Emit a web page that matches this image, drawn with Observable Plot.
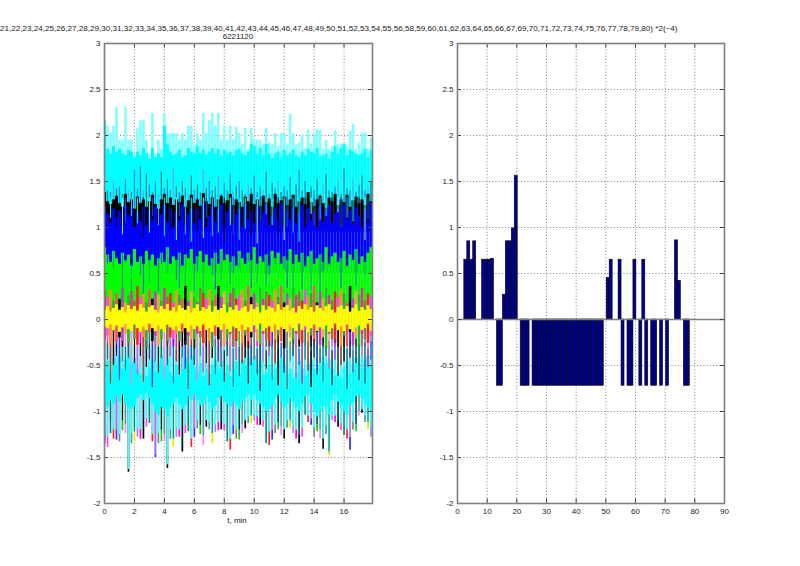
<!DOCTYPE html>
<html><head><meta charset="utf-8">
<script src="https://cdn.jsdelivr.net/npm/d3@7"></script>
<script src="https://cdn.jsdelivr.net/npm/@observablehq/plot@0.6"></script>
<style>
html,body{margin:0;padding:0;background:#fff;overflow:hidden}
#page{position:relative;width:800px;height:566px;overflow:hidden;font-family:"Liberation Sans",Arial,sans-serif;font-size:8px;color:#222}
#page svg{position:absolute;top:0;background:transparent}
.lbl{position:absolute;white-space:nowrap;line-height:10px}
</style></head><body>
<div id="page">
<div class="lbl" id="title" style="left:0;top:24px;font-size:8.1px"></div>
<div class="lbl" style="left:238px;top:32px;transform:translateX(-50%)">6221120</div>
<div class="lbl" style="left:237px;top:516px;transform:translateX(-50%)">t, min</div>
</div>
<script>
const titleNumbers = "21,22,23,24,25,26,27,28,29,30,31,32,33,34,35,36,37,38,39,40,41,42,43,44,45,46,47,48,49,50,51,52,53,54,55,56,58,59,60,61,62,63,64,65,66,67,69,70,71,72,73,74,75,76,77,78,79,80) *2(~4)";
const yTicks = [-2,-1.5,-1,-0.5,0,0.5,1,1.5,2,2.5,3];
const leftXTicks = [0,2,4,6,8,10,12,14,16];
const rightXTicks = [0,10,20,30,40,50,60,70,80,90];

// Right panel: bar index and value
const barN = [3,4,5,6,9,10,11,12,14,15,16,17,18,19,20,22,23,24,26,27,28,29,30,31,32,33,34,35,36,37,38,39,40,41,42,43,44,45,46,47,48,49,51,52,55,56,58,59,60,62,63,64,66,67,69,71,74,75,77,78];
const barV = [0.65,0.85,0.65,0.85,0.65,0.65,0.65,0.66,-0.72,-0.72,0.27,0.85,0.85,0.99,1.56,-0.72,-0.72,-0.72,
 -0.72,-0.72,-0.72,-0.72,-0.72,-0.72,-0.72,-0.72,-0.72,-0.72,-0.72,-0.72,-0.72,-0.72,-0.72,-0.72,-0.72,-0.72,-0.72,-0.72,-0.72,-0.72,-0.72,-0.72,
 0.45,0.65,0.65,-0.72,-0.72,-0.72,0.65,-0.72,0.65,-0.72,-0.72,-0.72,-0.72,-0.72,0.86,0.42,-0.72,-0.72];

// Left panel: time columns, min
const tMin = [0,.2,.4,.6,.8,1,1.2,1.4,1.6,1.8,2,2.2,2.4,2.6,2.8,3,3.2,3.4,3.6,3.8,4,4.2,4.4,4.6,4.8,5,5.2,5.4,5.6,5.8,6,6.2,6.4,6.6,6.8,7,7.2,7.4,7.6,7.8,8,8.2,8.4,8.6,8.8,9,9.2,9.4,9.6,9.8,10,10.2,10.4,10.6,10.8,11,11.2,11.4,11.6,11.8,12,12.2,12.4,12.6,12.8,13,13.2,13.4,13.6,13.8,14,14.2,14.4,14.6,14.8,15,15.2,15.4,15.6,15.8,16,16.2,16.4,16.6,16.8,17,17.2,17.4,17.6,17.8];

const spikeTop = [2.16,2.1,2.02,2.1,2.31,1.95,1.95,2.31,1.95,1.95,
 1.8,2.08,2.16,2.16,1.95,1.8,2.24,1.8,1.95,1.85,
 2.24,2.02,2.02,2.02,2.02,1.95,2.02,1.95,2.1,2.1,
 1.9,2.02,1.95,2.24,2.02,2.16,2.24,2.1,2.24,1.95,
 2.1,1.95,2.1,1.95,2.09,2.02,1.9,2.08,1.85,2.08,
 1.95,1.95,1.95,1.9,2.08,1.92,1.9,2.02,1.88,2.02,
 2.02,1.9,2.23,2.02,1.9,1.92,2.0,1.85,2.06,1.91,
 2.02,2.06,2.06,1.85,1.95,1.85,1.88,2.05,1.9,1.91,
 1.91,1.88,2.05,2.12,1.85,1.91,2.03,2.03,1.85,1.97];
const cyanTop = [2.16,1.85,1.8,1.88,1.82,1.85,1.8,1.78,1.84,1.82,
 1.76,1.82,1.78,1.86,1.8,1.74,1.86,1.76,1.8,1.76,
 2.1,1.9,1.82,1.78,1.8,1.84,1.76,1.78,1.86,1.82,
 1.8,1.88,1.8,1.84,1.78,1.82,1.86,1.8,1.85,1.78,
 1.84,1.8,1.82,1.78,1.84,1.85,1.8,1.78,1.82,1.9,
 1.88,1.8,1.86,1.78,1.9,1.8,1.75,1.8,1.82,1.76,
 1.84,1.78,1.8,1.84,1.78,1.76,1.82,1.78,1.85,1.82,
 1.8,1.86,1.76,1.78,1.8,1.74,1.82,1.88,1.8,1.86,
 1.9,1.78,1.84,1.82,1.8,1.78,1.8,1.85,1.76,1.84];
const bluePeak = [1.45,1.4,1.38,1.5,1.42,1.44,1.36,1.52,1.4,1.38,
 1.62,1.42,1.66,1.4,1.58,1.46,1.38,1.5,1.36,1.6,
 1.42,1.52,1.4,1.64,1.44,1.38,1.5,1.42,1.36,1.56,
 1.4,1.46,1.38,1.62,1.42,1.5,1.4,1.44,1.56,1.36,
 1.48,1.4,1.58,1.38,1.44,1.5,1.4,1.36,1.46,1.42,
 1.56,1.38,1.44,1.4,1.6,1.36,1.48,1.42,1.5,1.38,
 1.44,1.4,1.54,1.36,1.46,1.62,1.4,1.5,1.38,1.44,
 1.4,1.52,1.36,1.46,1.58,1.4,1.38,1.44,1.5,1.36,
 1.64,1.42,1.4,1.52,1.38,1.46,1.56,1.4,1.44,1.5];
const blackTop = [1.38,1.28,1.25,1.3,1.34,1.26,1.22,1.36,1.27,1.3,
 1.2,1.33,1.26,1.3,1.22,1.28,1.35,1.25,1.2,1.3,
 1.36,1.26,1.32,1.24,1.3,1.27,1.34,1.22,1.29,1.35,
 1.26,1.3,1.23,1.37,1.28,1.25,1.32,1.22,1.3,1.34,
 1.26,1.29,1.36,1.24,1.3,1.27,1.22,1.33,1.28,1.36,
 1.25,1.3,1.23,1.34,1.27,1.31,1.22,1.36,1.26,1.29,
 1.33,1.24,1.3,1.35,1.22,1.28,1.32,1.25,1.38,1.27,
 1.23,1.3,1.34,1.26,1.21,1.32,1.28,1.36,1.24,1.3,
 1.27,1.35,1.22,1.29,1.33,1.26,1.3,1.24,1.36,1.28];
const blueTop = [1.22,1.14,1.04,1.2,1.1,1.18,1.02,1.24,1.12,1.2,
 1.0,1.16,1.06,1.22,1.02,1.18,1.08,1.22,1.04,1.14,
 1.24,1.06,1.2,1.0,1.16,1.08,1.24,1.02,1.14,1.2,
 1.04,1.2,1.08,1.26,1.0,1.12,1.22,1.06,1.18,1.24,
 1.02,1.16,1.22,1.04,1.14,1.2,1.0,1.24,1.08,1.18,
 1.04,1.22,1.06,1.16,1.24,1.02,1.12,1.2,1.06,1.26,
 1.0,1.18,1.08,1.22,1.04,1.14,1.24,1.02,1.2,1.08,
 1.16,1.0,1.22,1.06,1.18,1.24,1.04,1.14,1.2,1.02,
 1.24,1.08,1.18,1.04,1.22,1.12,1.0,1.2,1.06,1.26];
const cyanDip = [1.02,0.9,1.1,0.84,1.0,1.14,0.92,1.06,0.86,1.12,
 0.96,1.04,1.16,0.88,1.08,0.94,1.12,0.82,1.02,1.1,
 0.9,1.14,0.98,1.06,0.86,1.12,1.0,0.92,1.08,0.84,
 1.14,0.96,1.04,0.88,1.1,1.0,0.9,1.16,0.94,1.06,
 0.84,1.12,1.02,0.92,1.08,0.86,1.14,0.98,1.04,0.9,
 1.1,0.82,1.06,0.96,1.14,0.88,1.02,1.12,0.92,1.08,
 0.86,1.0,1.16,0.94,1.06,0.84,1.1,0.98,0.9,1.14,
 1.02,0.88,1.08,0.96,1.12,0.86,1.04,0.92,1.16,1.0,
 0.84,1.1,0.94,1.06,0.9,1.14,0.98,0.86,1.08,1.02];
const greenTop = [0.78,0.7,0.62,0.74,0.66,0.6,0.72,0.64,0.7,0.58,
 0.76,0.62,0.68,0.6,0.74,0.64,0.7,0.58,0.66,0.72,
 0.62,0.78,0.6,0.68,0.64,0.72,0.58,0.7,0.66,0.76,
 0.6,0.68,0.74,0.62,0.7,0.58,0.66,0.72,0.6,0.76,
 0.64,0.7,0.62,0.68,0.58,0.74,0.66,0.6,0.72,0.64,
 0.78,0.6,0.68,0.62,0.7,0.58,0.74,0.66,0.72,0.6,
 0.68,0.64,0.76,0.6,0.7,0.62,0.72,0.58,0.68,0.74,
 0.6,0.66,0.7,0.62,0.78,0.6,0.68,0.72,0.62,0.66,
 0.74,0.58,0.7,0.64,0.76,0.6,0.68,0.62,0.72,0.78];
const greenDrop = [0.42,0.6,0.38,0.55,0.3,0.5,0.34,0.62,0.4,0.28,
 0.56,0.36,0.48,0.26,0.58,0.4,0.32,0.52,0.3,0.6,
 0.36,0.5,0.28,0.62,0.42,0.34,0.54,0.3,0.46,0.58,
 0.3,0.52,0.4,0.26,0.6,0.36,0.48,0.32,0.56,0.42,
 0.28,0.6,0.38,0.5,0.3,0.54,0.44,0.26,0.62,0.34,
 0.52,0.4,0.28,0.58,0.36,0.48,0.3,0.6,0.42,0.26,
 0.54,0.34,0.5,0.28,0.62,0.4,0.32,0.56,0.38,0.3,
 0.6,0.42,0.26,0.52,0.36,0.58,0.3,0.48,0.62,0.34,
 0.4,0.56,0.28,0.5,0.36,0.6,0.32,0.46,0.26,0.54];
const midTop = [0.3,0.24,0.32,0.2,0.28,0.22,0.34,0.18,0.26,0.3,
 0.2,0.36,0.24,0.28,0.18,0.32,0.22,0.3,0.26,0.2,
 0.34,0.24,0.28,0.18,0.32,0.26,0.22,0.36,0.2,0.3,
 0.24,0.18,0.34,0.28,0.22,0.32,0.2,0.26,0.36,0.24,
 0.3,0.18,0.28,0.34,0.22,0.26,0.32,0.2,0.36,0.24,
 0.28,0.18,0.34,0.22,0.3,0.26,0.2,0.32,0.24,0.36,
 0.18,0.28,0.22,0.34,0.26,0.3,0.2,0.32,0.24,0.28,
 0.36,0.18,0.3,0.22,0.34,0.26,0.2,0.3,0.24,0.32,
 0.28,0.18,0.36,0.22,0.3,0.26,0.34,0.2,0.28,0.24];
const midBottom = [-0.22,-0.18,-0.28,-0.14,-0.24,-0.2,-0.3,-0.16,-0.26,-0.12,
 -0.22,-0.28,-0.16,-0.2,-0.32,-0.14,-0.24,-0.18,-0.28,-0.22,
 -0.12,-0.26,-0.2,-0.3,-0.16,-0.24,-0.14,-0.28,-0.18,-0.22,
 -0.32,-0.16,-0.2,-0.26,-0.12,-0.24,-0.3,-0.18,-0.22,-0.14,
 -0.28,-0.2,-0.16,-0.3,-0.24,-0.12,-0.26,-0.18,-0.32,-0.2,
 -0.14,-0.24,-0.28,-0.16,-0.22,-0.3,-0.12,-0.26,-0.18,-0.24,
 -0.32,-0.14,-0.2,-0.28,-0.16,-0.22,-0.26,-0.12,-0.3,-0.18,
 -0.24,-0.14,-0.28,-0.2,-0.32,-0.16,-0.22,-0.26,-0.12,-0.3,
 -0.18,-0.24,-0.14,-0.28,-0.2,-0.3,-0.16,-0.22,-0.26,-0.18];
const yellowTop = [0.1,0.14,0.08,0.12,0.16,0.1,0.13,0.07,0.15,0.11,
 0.14,0.09,0.16,0.12,0.08,0.13,0.15,0.1,0.07,0.14,
 0.11,0.16,0.09,0.13,0.08,0.15,0.12,0.1,0.14,0.07,
 0.12,0.16,0.09,0.13,0.11,0.15,0.08,0.14,0.1,0.12,
 0.16,0.07,0.13,0.1,0.15,0.09,0.12,0.14,0.08,0.16,
 0.11,0.13,0.07,0.15,0.1,0.14,0.12,0.08,0.16,0.1,
 0.13,0.15,0.09,0.12,0.07,0.14,0.11,0.16,0.1,0.13,
 0.08,0.15,0.12,0.09,0.14,0.16,0.1,0.07,0.13,0.15,
 0.11,0.14,0.08,0.12,0.16,0.09,0.13,0.1,0.15,0.11];
const yellowBottom = [-0.08,-0.1,-0.06,-0.12,-0.07,-0.14,-0.09,-0.05,-0.11,-0.13,
 -0.06,-0.1,-0.14,-0.08,-0.12,-0.05,-0.1,-0.13,-0.07,-0.11,
 -0.14,-0.06,-0.09,-0.12,-0.08,-0.13,-0.05,-0.1,-0.14,-0.07,
 -0.11,-0.08,-0.13,-0.06,-0.12,-0.1,-0.14,-0.07,-0.09,-0.12,
 -0.05,-0.11,-0.14,-0.08,-0.1,-0.13,-0.06,-0.12,-0.09,-0.14,
 -0.07,-0.11,-0.05,-0.13,-0.1,-0.08,-0.14,-0.06,-0.12,-0.09,
 -0.11,-0.14,-0.07,-0.1,-0.13,-0.05,-0.12,-0.08,-0.14,-0.1,
 -0.06,-0.13,-0.09,-0.11,-0.07,-0.14,-0.1,-0.05,-0.12,-0.08,
 -0.13,-0.06,-0.11,-0.14,-0.09,-0.07,-0.12,-0.1,-0.05,-0.13];
const lowerBottom = [-1.35,-1.39,-1.24,-1.30,-1.31,-1.33,-1.21,-1.24,-1.66,-1.35,
 -1.33,-1.28,-1.30,-1.30,-1.17,-1.13,-1.33,-1.50,-1.35,-1.33,
 -1.33,-1.62,-1.30,-1.39,-1.28,-1.28,-1.44,-1.24,-1.22,-1.39,
 -1.28,-1.19,-1.25,-1.37,-1.17,-1.20,-1.35,-1.23,-1.21,-1.20,
 -1.21,-1.33,-1.42,-1.25,-1.30,-1.31,-1.24,-1.19,-1.13,-1.13,
 -1.10,-1.15,-1.15,-1.17,-1.35,-1.37,-1.31,-1.24,-1.20,-1.26,
 -1.30,-1.18,-1.19,-1.24,-1.30,-1.35,-1.28,-1.04,-1.12,-1.15,
 -1.28,-1.22,-1.30,-1.41,-1.25,-1.48,-1.10,-1.12,-1.17,-1.21,
 -1.26,-1.30,-1.42,-1.20,-1.22,-1.05,-1.02,-1.12,-1.20,-1.28];
const tailEnd = [-1.22,-1.28,-1.12,-1.2,-1.2,-1.25,-1.1,-1.14,-1.63,-1.24,
 -1.22,-1.18,-1.2,-1.18,-1.08,-1.06,-1.25,-1.47,-1.24,-1.2,
 -1.25,-1.58,-1.2,-1.3,-1.18,-1.2,-1.34,-1.15,-1.14,-1.3,
 -1.18,-1.1,-1.15,-1.26,-1.1,-1.12,-1.24,-1.14,-1.12,-1.1,
 -1.14,-1.22,-1.3,-1.15,-1.2,-1.2,-1.14,-1.1,-1.06,-1.05,
 -1.04,-1.06,-1.07,-1.1,-1.2,-1.22,-1.2,-1.15,-1.12,-1.16,
 -1.2,-1.1,-1.1,-1.16,-1.2,-1.26,-1.18,-1.0,-1.05,-1.08,
 -1.18,-1.14,-1.2,-1.3,-1.16,-1.44,-1.04,-1.05,-1.1,-1.13,
 -1.16,-1.2,-1.28,-1.12,-1.14,-1.0,-0.98,-1.05,-1.12,-1.18];
const cyanHigh = [-0.52,-0.46,-0.58,-0.42,-0.5,-0.4,-0.54,-0.44,-0.38,-0.48,
 -0.42,-0.54,-0.6,-0.48,-0.62,-0.54,-0.44,-0.58,-0.48,-0.4,
 -0.52,-0.44,-0.58,-0.62,-0.5,-0.6,-0.54,-0.42,-0.48,-0.4,
 -0.52,-0.58,-0.48,-0.62,-0.54,-0.6,-0.5,-0.44,-0.54,-0.46,
 -0.58,-0.5,-0.62,-0.54,-0.46,-0.6,-0.44,-0.5,-0.42,-0.48,
 -0.4,-0.54,-0.46,-0.6,-0.58,-0.5,-0.62,-0.54,-0.46,-0.42,
 -0.5,-0.6,-0.54,-0.64,-0.58,-0.46,-0.54,-0.62,-0.5,-0.44,
 -0.54,-0.6,-0.5,-0.42,-0.48,-0.44,-0.54,-0.62,-0.58,-0.64,
 -0.54,-0.46,-0.6,-0.5,-0.42,-0.48,-0.54,-0.44,-0.4,-0.5];
const cyanLow = [-0.9,-0.96,-0.88,-0.92,-0.84,-0.9,-0.82,-0.92,-0.96,-0.98,
 -0.94,-0.86,-0.82,-0.88,-0.8,-0.86,-0.92,-1.0,-1.04,-0.96,
 -0.98,-1.06,-0.96,-0.92,-0.86,-0.92,-0.98,-0.94,-0.84,-0.88,
 -0.82,-0.88,-0.94,-0.92,-0.84,-0.9,-0.98,-0.94,-0.86,-0.84,
 -0.9,-0.92,-0.96,-0.9,-0.94,-0.98,-0.9,-0.86,-0.82,-0.88,
 -0.82,-0.88,-0.92,-0.96,-1.0,-0.98,-0.94,-0.86,-0.82,-0.9,
 -0.96,-0.92,-0.86,-0.9,-0.96,-1.0,-0.92,-0.84,-0.82,-0.92,
 -1.0,-1.06,-1.0,-0.94,-0.96,-1.04,-0.88,-0.82,-0.9,-0.94,
 -1.0,-1.04,-0.94,-0.9,-0.84,-0.82,-0.86,-0.92,-0.96,-1.0];
const darkHigh = [-0.34,-0.26,-0.3,-0.22,-0.28,-0.32,-0.24,-0.3,-0.26,-0.34,
 -0.22,-0.3,-0.26,-0.32,-0.24,-0.28,-0.34,-0.22,-0.3,-0.26,
 -0.32,-0.24,-0.28,-0.22,-0.34,-0.26,-0.3,-0.24,-0.32,-0.28,
 -0.22,-0.34,-0.26,-0.3,-0.24,-0.28,-0.32,-0.22,-0.3,-0.26,
 -0.34,-0.24,-0.28,-0.32,-0.22,-0.3,-0.26,-0.34,-0.24,-0.28,
 -0.22,-0.32,-0.3,-0.26,-0.34,-0.24,-0.28,-0.22,-0.32,-0.26,
 -0.3,-0.34,-0.24,-0.22,-0.28,-0.32,-0.26,-0.3,-0.24,-0.34,
 -0.22,-0.28,-0.32,-0.26,-0.3,-0.24,-0.34,-0.22,-0.28,-0.3,
 -0.26,-0.32,-0.24,-0.34,-0.22,-0.28,-0.3,-0.26,-0.32,-0.24];
const darkLow = [-0.62,-0.44,-0.7,-0.5,-0.4,-0.66,-0.46,-0.56,-0.42,-0.72,
 -0.48,-0.6,-0.4,-0.68,-0.52,-0.44,-0.74,-0.46,-0.58,-0.42,
 -0.64,-0.5,-0.4,-0.7,-0.46,-0.6,-0.42,-0.54,-0.76,-0.44,
 -0.5,-0.66,-0.4,-0.58,-0.48,-0.72,-0.42,-0.6,-0.46,-0.52,
 -0.68,-0.4,-0.56,-0.74,-0.44,-0.62,-0.48,-0.42,-0.7,-0.5,
 -0.44,-0.6,-0.78,-0.46,-0.54,-0.4,-0.66,-0.48,-0.72,-0.42,
 -0.58,-0.76,-0.46,-0.4,-0.64,-0.5,-0.7,-0.44,-0.56,-0.74,
 -0.42,-0.6,-0.48,-0.68,-0.4,-0.54,-0.72,-0.44,-0.62,-0.5,
 -0.46,-0.76,-0.42,-0.58,-0.48,-0.66,-0.4,-0.7,-0.52,-0.44];

const tailColors = ["#000000","#ff40ff","#008888","#ff2020","#3030ff","#808080","#20c020","#ff80ff","#101010","#40a0a0","#e8e800","#9090ff","#ff00ff"];
const midColors = ["#ff2020","#ff40ff","#ff9020","#40a040","#ff5050","#000000","#c040c0","#ffa040","#20c020","#ff20a0","#808040"];
const darkColors = ["#000000","#107070","#008888","#303060","#000000","#0040ff"];
const upperFringe = ["#ff40ff","none","#ff2020","#000000","none","#3030ff","#808080","none","#107070","#ff80ff","none"];
const lowerFringe = ["#000000","none","#107070","none","#ff40ff","none","#000000","#808080","none","none","#008888","none","none"];
const dipColors = ["#40c0ff","none","#00ffff","none","#000000","none","#80ffff","#0060c0","none"];

const axisStyle = {fontSize:"8px",fontFamily:"'Liberation Sans',Arial,sans-serif",color:"#222"};
const frame = "#7f7f7f";

function base(xDomain, xTicks, marks, left, right){
  const [x0,x1] = xDomain;
  return Plot.plot({
    width:400,height:566,marginLeft:left,marginRight:right,marginTop:43,marginBottom:63,
    style:axisStyle,
    x:{domain:xDomain,label:null},
    y:{domain:[-2,3],label:null},
    color:{type:"identity"},
    marks:[
      Plot.ruleX(xTicks,{stroke:"#808080",strokeDasharray:"1,2.2",strokeWidth:1}),
      Plot.ruleY(yTicks,{stroke:"#808080",strokeDasharray:"1,2.2",strokeWidth:1}),
      ...marks,
      Plot.ruleX(xTicks,{y1:()=>-2,y2:()=>-1.95,stroke:"#404040",strokeWidth:1}),
      Plot.ruleX(xTicks,{y1:()=>3,y2:()=>2.95,stroke:"#404040",strokeWidth:1}),
      Plot.ruleY(yTicks,{x1:()=>x0,x2:()=>x0+(x1-x0)*0.015,stroke:"#404040",strokeWidth:1}),
      Plot.ruleY(yTicks,{x1:()=>x1,x2:()=>x1-(x1-x0)*0.015,stroke:"#404040",strokeWidth:1}),
      Plot.axisX(xTicks,{tickSize:0,tickPadding:5,tickFormat:d=>String(d),label:null}),
      Plot.axisY(yTicks,{tickSize:0,tickPadding:4,tickFormat:d=>String(d),label:null}),
      Plot.frame({stroke:frame,strokeWidth:1.6})
    ]
  });
}

const col = (hi,lo,stroke,strokeWidth=3) => Plot.ruleX(tMin,{
  x:d=>d,
  y1:(d,i)=>typeof lo==="number"?lo:lo[i],
  y2:(d,i)=>typeof hi==="number"?hi:hi[i],
  stroke:typeof stroke==="string"?stroke:(d,i)=>stroke[i%stroke.length],
  strokeWidth,clip:true
});

const leftMarks = [
  col(spikeTop,1.2,"#80ffff",2.6),
  col(cyanTop,1.2,"#00ffff",3.1),
  col(bluePeak,1.1,["#2080ff","#108890","#2080e0","#60a0ff","#008080"],1.2),
  col(blackTop,0.95,"#000000",3.1),
  col(blueTop,0.5,"#0000ff",3.1),
  col(1.32,cyanDip,dipColors,1),
  col(greenTop,0.1,"#00ff00",3.1),
  col(greenTop,greenDrop,["#0a80a0","#2050e0","#00ff00","#20a080","#00ff00","#00ff00"],1),
  col(lowerBottom,-0.1,tailColors,1.7),
  col(tailEnd,-0.3,"#40ffff",1.8),
  col(midTop,midBottom,midColors,2.6),
  col(cyanHigh,cyanLow,"#00ffff",3.1),
  col(darkHigh,darkLow,darkColors,1),
  col(midBottom,darkLow,upperFringe,1.2),
  col(cyanLow,tailEnd,lowerFringe,1.1),
  col(yellowTop,yellowBottom,"#ffff00",3.1)
];

const rightMarks = [
  Plot.rectY(barN.map((n,i)=>({n,v:barV[i]})),{
    x1:d=>d.n-0.7,x2:d=>d.n+0.3,y1:()=>0,y2:d=>d.v,
    fill:"#000090",stroke:"#000000",strokeWidth:0.6}),
  Plot.ruleY([0],{stroke:"#808080",strokeWidth:1.4})
];

document.getElementById("title").textContent = titleNumbers;
const page = document.getElementById("page");
const a = base([0,17.9],leftXTicks,leftMarks,104,28); a.style.left="0px"; page.appendChild(a);
const b = base([0,90],rightXTicks,rightMarks,57,76); b.style.left="400px"; page.appendChild(b);
</script>
</body></html>
